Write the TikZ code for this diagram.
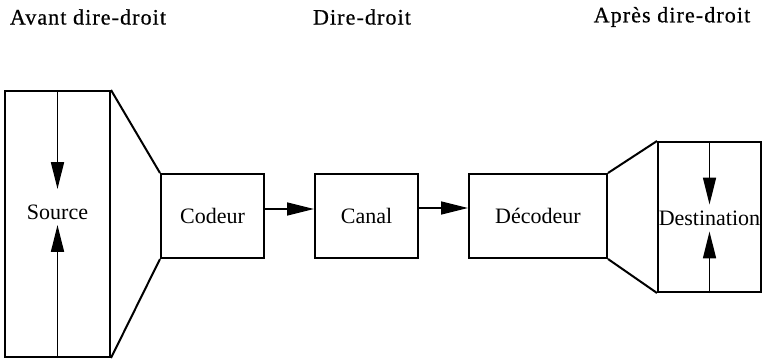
\documentclass[tikz,border=0pt]{standalone}
\usepackage{fontspec}
\setmainfont{Liberation Serif}
\newfontfamily\titrefont[LetterSpace=5,FakeBold=0.6]{Liberation Serif}
\usetikzlibrary{arrows.meta}
\tikzset{
schema/.style={
x=0.5pt, y=-0.5pt,
every node/.style={font=\fontsize{11}{13}\selectfont},
bloc/.style={draw, line width=1pt, inner sep=0pt},
etiq/.style={inner sep=0pt, anchor=base},
trait/.style={line width=1pt},
fleche/.style={line width=0.8pt, -{Triangle[length=13.5pt,width=6.5pt]}},
titre/.style={font=\titrefont\fontsize{11}{14}\selectfont},
}}

\begin{document}
\begin{tikzpicture}[schema]
\useasboundingbox (0,0) rectangle (762,359);
% titres
\node[titre] (avant) at (88,17) {Avant dire-droit};
\node[titre] (pendant) at (362,17) {Dire-droit};
\node[titre] (apres) at (672,17) {Après dire-droit};
% blocs
\node[bloc, minimum width=52.5pt, minimum height=133pt] (src) at (57.5,224) {};
\node[bloc, minimum width=51.5pt, minimum height=42pt] (cod) at (212.5,216) {Codeur};
\node[bloc, minimum width=51.5pt, minimum height=42pt] (can) at (366.5,216) {Canal};
\node[bloc, minimum width=69pt, minimum height=42pt] (dec) at (538,216) {Décodeur};
\node[bloc, minimum width=51.5pt, minimum height=75pt] (dst) at (709.5,217) {};
\node[etiq, text height=15pt, text depth=2.5pt] (srctxt) at (57.5,219.5) {Source};
\node[etiq, text height=10pt, text depth=3pt] (dsttxt) at (709.5,225) {Destination};
%
\draw[trait] (src.north east) -- (cod.north west);
\draw[trait] (src.south east) -- (cod.south west);
\draw[trait] (dec.north east) -- (dst.north west);
\draw[trait] (dec.south east) -- (dst.south west);
%
\draw[fleche] (src.north) -- (srctxt.north);
\draw[fleche] (src.south) -- (srctxt.south);
\draw[fleche] (dst.north) -- (dsttxt.north);
\draw[fleche] (dst.south) -- (dsttxt.south);
\draw[fleche] ([yshift=3.5pt]cod.east) -- ([yshift=3.5pt]can.west);
\draw[fleche] ([yshift=4pt]can.east) -- ([yshift=4pt]dec.west);
\end{tikzpicture}
\end{document}
